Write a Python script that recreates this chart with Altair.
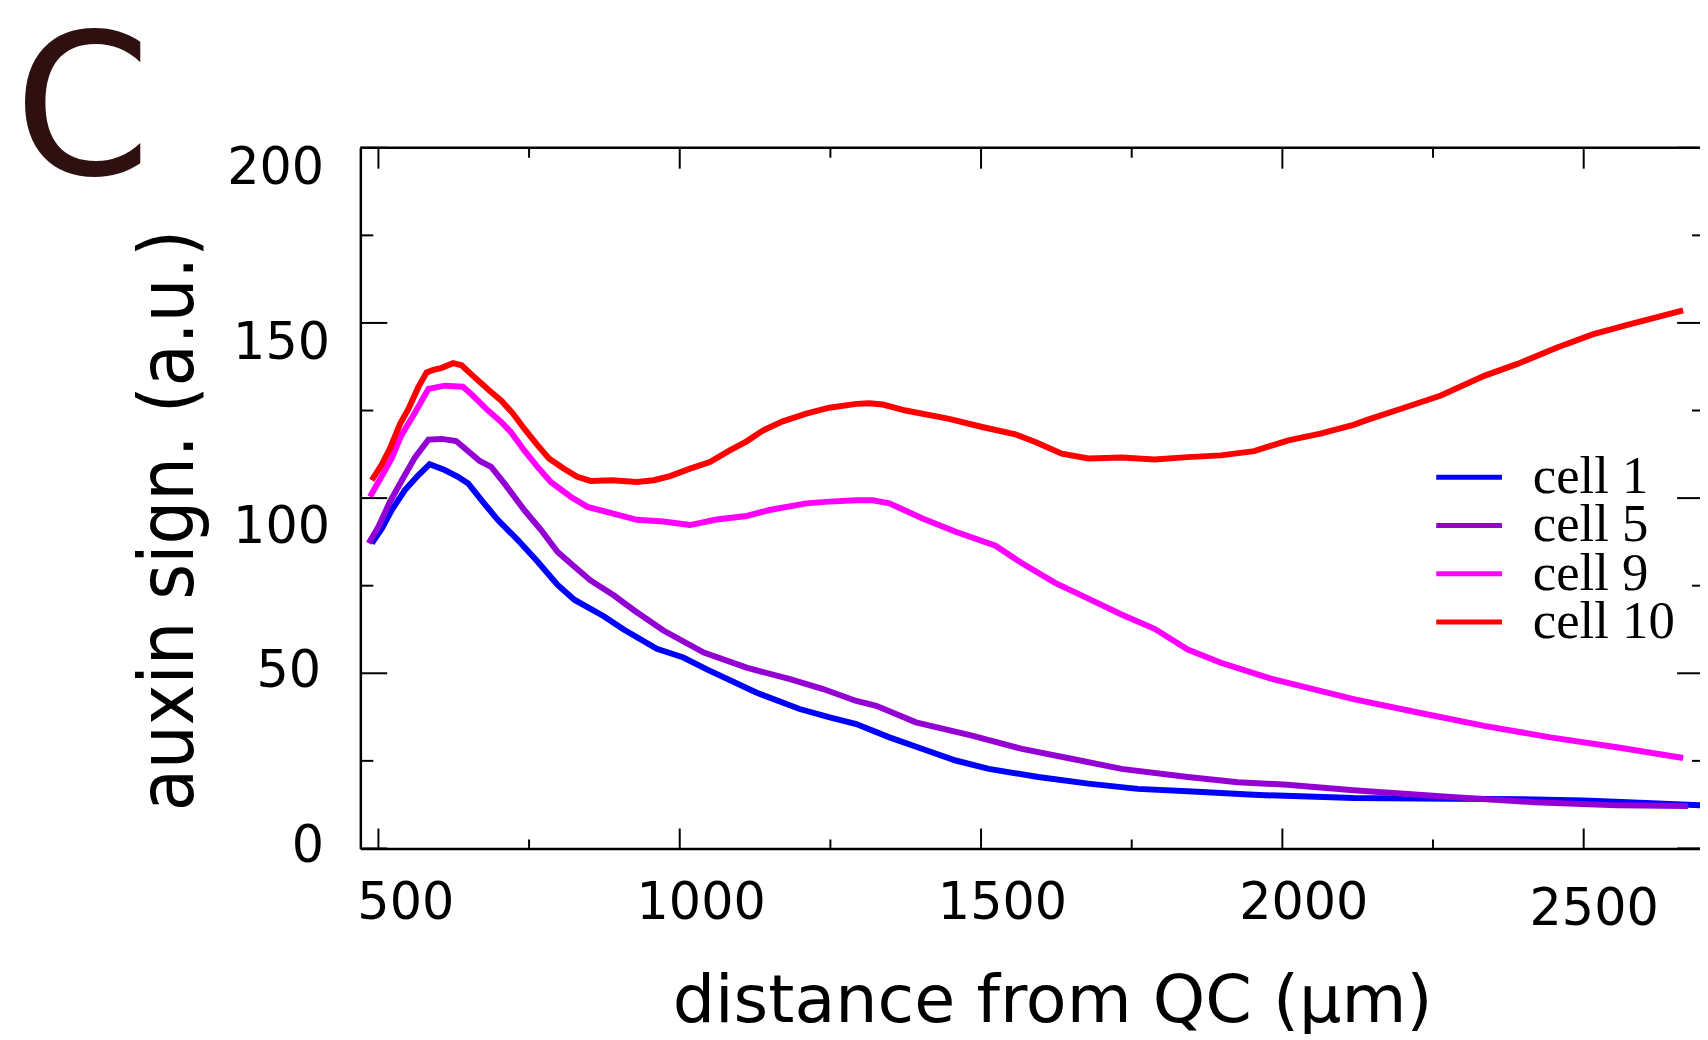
import altair as alt
import pandas as pd

# ---------------- data ----------------
series_names = ["cell 1", "cell 5", "cell 9", "cell 10"]
series_colors = ["#0000ff", "#9400d3", "#ff00ff", "#ff0000"]
panel_label = ["C"]

cell1_x = [489, 506, 522, 544, 566, 585, 610, 632, 649, 671, 698, 731, 764, 797, 825, 874, 907, 962,
           1006, 1045, 1127, 1199, 1249, 1293, 1348, 1403, 1458, 1513, 1595, 1678, 1760, 1843, 1953,
           2118, 2280, 2418, 2500, 2583, 2693, 2710]
cell1_y = [87.1, 91.4, 96.6, 102.3, 106.5, 109.7, 108.0, 106.1, 104.2, 99.4, 93.8, 88.1, 81.9, 75.3,
           71.0, 66.3, 62.5, 57.0, 54.5, 51.1, 44.5, 39.8, 37.4, 35.5, 31.7, 28.4, 25.1, 22.7, 20.4,
           18.5, 17.0, 16.3, 15.3, 14.4, 14.2, 14.0, 13.7, 13.1, 12.3, 12.2]

cell5_x = [484, 500, 519, 539, 561, 583, 605, 629, 649, 668, 687, 709, 742, 770, 797, 825, 852, 891,
           924, 973, 1040, 1111, 1183, 1238, 1293, 1326, 1392, 1485, 1568, 1650, 1733, 1843, 1926,
           2008, 2118, 2280, 2418, 2555, 2673]
cell5_y = [87.1, 91.8, 98.9, 105.1, 111.7, 116.7, 116.9, 116.3, 113.4, 110.6, 108.9, 104.2, 96.6,
           90.9, 84.7, 80.5, 76.5, 72.2, 68.0, 62.2, 55.9, 51.6, 48.3, 45.5, 42.1, 40.7, 36.0, 32.2,
           28.4, 25.6, 22.7, 20.4, 18.9, 18.2, 16.6, 14.7, 13.2, 12.3, 12.1]

cell9_x = [486, 505, 522, 538, 561, 583, 610, 640, 654, 682, 704, 720, 742, 764, 786, 819, 847, 885,
           929, 973, 1017, 1061, 1111, 1149, 1210, 1248, 1293, 1320, 1348, 1403, 1458, 1524, 1568,
           1623, 1678, 1733, 1788, 1843, 1898, 1981, 2063, 2118, 2225, 2335, 2445, 2555, 2665]
cell9_y = [100.4, 106.1, 111.3, 117.9, 124.5, 131.2, 132.1, 131.8, 129.7, 125.0, 121.7, 118.8, 113.6,
           108.9, 104.6, 100.4, 97.5, 95.8, 93.8, 93.3, 92.3, 93.9, 94.9, 96.6, 98.5, 99.0, 99.4,
           99.4, 98.5, 94.2, 90.4, 86.4, 81.4, 75.8, 71.3, 66.8, 62.7, 56.8, 53.0, 48.5, 45.0, 42.6,
           38.8, 35.0, 31.7, 28.9, 25.8]

cell10_x = [489, 505, 519, 536, 550, 566, 580, 591, 604, 624, 638, 657, 684, 704, 723, 742, 764, 783,
            808, 830, 852, 888, 929, 957, 984, 1017, 1050, 1083, 1111, 1138, 1171, 1210, 1248, 1293,
            1314, 1337, 1375, 1447, 1502, 1557, 1590, 1634, 1678, 1733, 1788, 1843, 1898, 1953, 2010,
            2063, 2118, 2142, 2197, 2263, 2335, 2390, 2456, 2516, 2582, 2665]
cell10_y = [105.1, 109.4, 114.1, 121.2, 125.5, 131.6, 135.9, 136.6, 137.1, 138.5, 137.9, 134.9, 130.7,
            127.8, 124.2, 119.8, 115.1, 111.3, 108.4, 106.1, 104.9, 105.1, 104.6, 105.1, 106.3, 108.4,
            110.3, 113.6, 116.2, 119.3, 121.9, 124.1, 125.8, 126.9, 127.1, 126.7, 125.0, 122.6, 120.3,
            118.2, 116.0, 112.7, 111.3, 111.6, 111.0, 111.7, 112.2, 113.4, 116.5, 118.4, 120.9, 122.4,
            125.5, 129.3, 134.9, 138.3, 143.0, 146.8, 149.9, 153.6]

x_major = [500, 1000, 1500, 2000, 2500]
x_minor = [750, 1250, 1750, 2250]
y_major = [0, 50, 100, 150, 200]
y_minor = [25, 75, 125, 175]

x_title = "distance from QC (μm)"
y_title = "auxin sign. (a.u.)"

# ---------------- build ----------------
W, H = 1346, 704
frame_w = 2.5
tick_w = 2

rows = []
for name, xs, ys in [("cell 1", cell1_x, cell1_y), ("cell 5", cell5_x, cell5_y),
                     ("cell 9", cell9_x, cell9_y), ("cell 10", cell10_x, cell10_y)]:
    for xv, yv in zip(xs, ys):
        rows.append({"series": name, "x": xv, "y": yv})
df = pd.DataFrame(rows)

xscale = alt.Scale(domain=[470, 2693], nice=False, zero=False)
yscale = alt.Scale(domain=[0, 200], nice=False, zero=False)
cscale = alt.Scale(domain=series_names, range=series_colors)

x_axis = alt.Axis(
    values=x_major, format="d", ticks=False, grid=False,
    domainColor="black", domainWidth=frame_w,
    labelFont="DejaVu Sans", labelFontSize=51, labelColor="black",
    labelAlign="center", labelBaseline="top", labelFlush=False,
    labelPadding={"condition": {"test": "datum.value === 2500", "value": 36}, "value": 30},
    labelOffset={"condition": [{"test": "datum.value === 500", "value": 27},
                               {"test": "datum.value === 2500", "value": 10}], "value": 21},
    title=x_title, titleFont="DejaVu Sans", titleFontSize=67, titleFontWeight="normal",
    titleColor="black", titleX=695, titleY=174, titleAlign="center", titleBaseline="alphabetic",
)
y_axis = alt.Axis(
    values=y_major, format="d", ticks=False, grid=False,
    domainColor="black", domainWidth=frame_w,
    labelFont="DejaVu Sans", labelFontSize=51, labelColor="black",
    labelAlign="right", labelBaseline="middle", labelFlush=False,
    labelPadding={"condition": [{"test": "datum.value === 150 || datum.value === 100", "value": 31},
                                {"test": "datum.value === 50", "value": 40}], "value": 37},
    labelOffset={"condition": [{"test": "datum.value === 100", "value": 30},
                               {"test": "datum.value >= 150", "value": 21}], "value": -2},
    title=y_title, titleFont="DejaVu Sans Condensed, DejaVu Sans", titleFontSize=77,
    titleFontWeight="normal", titleColor="black", titleAngle=270,
    titleX=-169, titleY=374, titleAlign="center", titleBaseline="alphabetic",
)

lines = alt.Chart(df).mark_line(strokeWidth=6, clip=True).encode(
    x=alt.X("x:Q", scale=xscale, axis=x_axis),
    y=alt.Y("y:Q", scale=yscale, axis=y_axis),
    color=alt.Color("series:N", scale=cscale, legend=None),
    detail="series:N",
)


def xticks(vals, y0, y1):
    return alt.Chart(pd.DataFrame({"x": vals})).mark_rule(color="black", strokeWidth=tick_w).encode(
        x=alt.X("x:Q", scale=xscale, axis=x_axis), y=alt.value(y0), y2=alt.value(y1))


def yticks(vals, x0, x1):
    return alt.Chart(pd.DataFrame({"y": vals})).mark_rule(color="black", strokeWidth=tick_w).encode(
        y=alt.Y("y:Q", scale=yscale, axis=y_axis), x=alt.value(x0), x2=alt.value(x1))


ticks = [
    xticks(x_major, H, H - 20), xticks(x_minor, H, H - 9),
    xticks(x_major, 0, 21), xticks(x_minor, 0, 10),
    yticks(y_major, 0, 27), yticks(y_minor, 0, 13),
    yticks(y_major, W - 23, W + 6), yticks(y_minor, W - 8, W + 6),
]

one = pd.DataFrame({"t": panel_label})
top_line = alt.Chart(one).mark_rule(color="black", strokeWidth=frame_w).encode(
    x=alt.value(0), x2=alt.value(W), y=alt.value(0))

panel = alt.Chart(one).mark_text(
    font="DejaVu Sans", fontSize=197, color="#2e1010", align="left", baseline="alphabetic"
).encode(text="t:N", x=alt.value(-348), y=alt.value(26))

# legend, drawn row by row (one layer per entry)
legend_layers = []
for i, name in enumerate(series_names):
    row_y = 331 + i * 48.5
    ldf = pd.DataFrame({"series": [name]})
    legend_layers.append(
        alt.Chart(ldf).mark_rule(strokeWidth=5).encode(
            x=alt.value(1081), x2=alt.value(1147), y=alt.value(row_y),
            color=alt.Color("series:N", scale=cscale, legend=None)))
    legend_layers.append(
        alt.Chart(ldf).mark_text(
            font="Liberation Serif", fontSize=53, color="black", align="left", baseline="alphabetic"
        ).encode(x=alt.value(1178), y=alt.value(row_y + 16), text="series:N"))

chart = alt.layer(lines, *ticks, top_line, panel, *legend_layers).properties(
    width=W, height=H,
    padding={"left": 354, "top": 138, "right": 0, "bottom": 184},
    autosize=alt.AutoSizeParams(type="none"),
    background="white",
).configure_view(stroke=None)

chart.save("out.html", embed_options={"renderer": "svg", "actions": False})
